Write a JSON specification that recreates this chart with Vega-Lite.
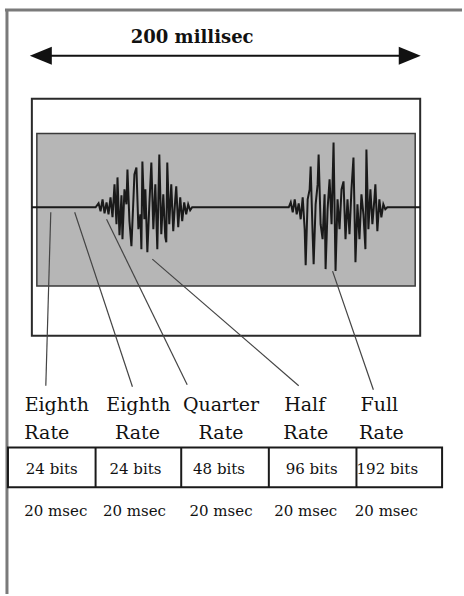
{
  "$schema": "https://vega.github.io/schema/vega-lite/v6.json",
  "width": 464,
  "height": 596,
  "autosize": {"type": "fit", "contains": "padding"},
  "padding": 0,
  "background": "white",
  "config": {"view": {"stroke": null}},
  "datasets": {
    "frame": [
      {"x": 5, "y": 10, "x2": 464, "y2": 10},
      {"x": 7, "y": 10, "x2": 7, "y2": 596}
    ],
    "outerbox": [{"x": 32, "y": 99, "x2": 422, "y2": 337}],
    "graybox": [{"x": 37, "y": 134, "x2": 417, "y2": 287}],
    "table": [{"x": 8, "y": 449, "x2": 444, "y2": 489}],
    "dividers": [
      {"x": 96, "y": 449, "x2": 96, "y2": 489},
      {"x": 182, "y": 449, "x2": 182, "y2": 489},
      {"x": 270, "y": 449, "x2": 270, "y2": 489},
      {"x": 358, "y": 449, "x2": 358, "y2": 489}
    ],
    "pointers": [
      {"x": 51, "y": 213, "x2": 46, "y2": 387},
      {"x": 75, "y": 213, "x2": 133, "y2": 388},
      {"x": 107, "y": 220, "x2": 188, "y2": 386},
      {"x": 153, "y": 260, "x2": 300, "y2": 387},
      {"x": 334, "y": 272, "x2": 375, "y2": 391}
    ],
    "arrow": [{"x": 48, "y": 56, "x2": 404, "y2": 56}],
    "headLeft": [{"x": 41, "y": 56}],
    "headRight": [{"x": 411.5, "y": 56}],
    "wave": [
      {"x": 32, "y": 208}, {"x": 96, "y": 208}, {"x": 99, "y": 204}, {"x": 101, "y": 212},
      {"x": 103, "y": 200}, {"x": 105, "y": 214}, {"x": 107, "y": 203}, {"x": 109, "y": 215},
      {"x": 111, "y": 198}, {"x": 113, "y": 218}, {"x": 115, "y": 185}, {"x": 117, "y": 225},
      {"x": 118, "y": 178}, {"x": 120, "y": 236}, {"x": 122, "y": 196}, {"x": 123, "y": 240},
      {"x": 125, "y": 190}, {"x": 127, "y": 205}, {"x": 128, "y": 170}, {"x": 130, "y": 222},
      {"x": 132, "y": 247}, {"x": 134, "y": 200}, {"x": 135, "y": 175}, {"x": 137, "y": 168},
      {"x": 139, "y": 230}, {"x": 141, "y": 215}, {"x": 142, "y": 250}, {"x": 143, "y": 162},
      {"x": 145, "y": 220}, {"x": 146, "y": 190}, {"x": 148, "y": 253}, {"x": 150, "y": 205},
      {"x": 152, "y": 163}, {"x": 154, "y": 230}, {"x": 156, "y": 185}, {"x": 158, "y": 250},
      {"x": 160, "y": 155}, {"x": 162, "y": 235}, {"x": 164, "y": 195}, {"x": 166, "y": 238},
      {"x": 167, "y": 243}, {"x": 168, "y": 163}, {"x": 170, "y": 225}, {"x": 172, "y": 185},
      {"x": 174, "y": 232}, {"x": 176, "y": 200}, {"x": 177, "y": 187}, {"x": 179, "y": 228},
      {"x": 181, "y": 198}, {"x": 183, "y": 222}, {"x": 185, "y": 203}, {"x": 187, "y": 215},
      {"x": 189, "y": 205}, {"x": 191, "y": 211}, {"x": 193, "y": 208},
      {"x": 290, "y": 208}, {"x": 292, "y": 203}, {"x": 294, "y": 213}, {"x": 296, "y": 200},
      {"x": 298, "y": 215}, {"x": 300, "y": 204}, {"x": 302, "y": 220}, {"x": 304, "y": 198},
      {"x": 306, "y": 230}, {"x": 307, "y": 266}, {"x": 309, "y": 200}, {"x": 311, "y": 190},
      {"x": 312, "y": 167}, {"x": 314, "y": 235}, {"x": 315, "y": 265}, {"x": 317, "y": 205},
      {"x": 319, "y": 185}, {"x": 320, "y": 155}, {"x": 322, "y": 225}, {"x": 324, "y": 240},
      {"x": 326, "y": 195}, {"x": 327, "y": 270}, {"x": 329, "y": 210}, {"x": 331, "y": 180},
      {"x": 333, "y": 225}, {"x": 335, "y": 143}, {"x": 337, "y": 272}, {"x": 339, "y": 200},
      {"x": 341, "y": 230}, {"x": 343, "y": 190}, {"x": 345, "y": 182}, {"x": 347, "y": 240},
      {"x": 349, "y": 200}, {"x": 351, "y": 235}, {"x": 353, "y": 190}, {"x": 355, "y": 158},
      {"x": 357, "y": 263}, {"x": 359, "y": 205}, {"x": 361, "y": 240}, {"x": 363, "y": 195},
      {"x": 365, "y": 215}, {"x": 367, "y": 250}, {"x": 368, "y": 150}, {"x": 370, "y": 230},
      {"x": 372, "y": 190}, {"x": 374, "y": 225}, {"x": 376, "y": 200}, {"x": 377, "y": 185},
      {"x": 379, "y": 232}, {"x": 381, "y": 200}, {"x": 383, "y": 218}, {"x": 385, "y": 205},
      {"x": 387, "y": 210}, {"x": 389, "y": 208}, {"x": 422, "y": 208}
    ],
    "title": [{"x": 193, "y": 43, "label": "200 millisec"}],
    "rates": [
      {"x": 57, "y": 412, "label": "Eighth"}, {"x": 47, "y": 440, "label": "Rate"},
      {"x": 139, "y": 412, "label": "Eighth"}, {"x": 138, "y": 440, "label": "Rate"},
      {"x": 222, "y": 412, "label": "Quarter"}, {"x": 222, "y": 440, "label": "Rate"},
      {"x": 306, "y": 412, "label": "Half"}, {"x": 307, "y": 440, "label": "Rate"},
      {"x": 381, "y": 412, "label": "Full"}, {"x": 383, "y": 440, "label": "Rate"}
    ],
    "bits": [
      {"x": 52, "y": 476, "label": "24 bits"},
      {"x": 136, "y": 476, "label": "24 bits"},
      {"x": 220, "y": 476, "label": "48 bits"},
      {"x": 313, "y": 476, "label": "96 bits"},
      {"x": 389, "y": 476, "label": "192 bits"}
    ],
    "durations": [
      {"x": 56, "y": 518, "label": "20 msec"},
      {"x": 135, "y": 518, "label": "20 msec"},
      {"x": 222, "y": 518, "label": "20 msec"},
      {"x": 307, "y": 518, "label": "20 msec"},
      {"x": 388, "y": 518, "label": "20 msec"}
    ]
  },
  "encoding": {
    "x": {"field": "x", "type": "quantitative", "scale": {"domain": [0, 464], "nice": false, "zero": false}, "axis": null},
    "y": {"field": "y", "type": "quantitative", "scale": {"domain": [0, 596], "nice": false, "zero": false, "reverse": true}, "axis": null}
  },
  "layer": [
    {
      "data": {"name": "frame"},
      "mark": {"type": "rule", "color": "#7a7a7a", "strokeWidth": 3},
      "encoding": {"x2": {"field": "x2"}, "y2": {"field": "y2"}}
    },
    {
      "data": {"name": "outerbox"},
      "mark": {"type": "rect", "fill": "white", "stroke": "#2a2a2a", "strokeWidth": 2},
      "encoding": {"x2": {"field": "x2"}, "y2": {"field": "y2"}}
    },
    {
      "data": {"name": "graybox"},
      "mark": {"type": "rect", "fill": "#b6b6b6", "stroke": "#3a3a3a", "strokeWidth": 1.5},
      "encoding": {"x2": {"field": "x2"}, "y2": {"field": "y2"}}
    },
    {
      "data": {"name": "pointers"},
      "mark": {"type": "rule", "color": "#444444", "strokeWidth": 1.2},
      "encoding": {"x2": {"field": "x2"}, "y2": {"field": "y2"}}
    },
    {
      "data": {"name": "wave"},
      "mark": {"type": "line", "color": "#1a1a1a", "strokeWidth": 2, "interpolate": "linear"},
      "encoding": {}
    },
    {
      "data": {"name": "table"},
      "mark": {"type": "rect", "fill": "white", "fillOpacity": 0, "stroke": "#1a1a1a", "strokeWidth": 2},
      "encoding": {"x2": {"field": "x2"}, "y2": {"field": "y2"}}
    },
    {
      "data": {"name": "dividers"},
      "mark": {"type": "rule", "color": "#1a1a1a", "strokeWidth": 2},
      "encoding": {"x2": {"field": "x2"}, "y2": {"field": "y2"}}
    },
    {
      "data": {"name": "arrow"},
      "mark": {"type": "rule", "color": "#111111", "strokeWidth": 2},
      "encoding": {"x2": {"field": "x2"}, "y2": {"field": "y2"}}
    },
    {
      "data": {"name": "headLeft"},
      "mark": {"type": "point", "filled": true, "opacity": 1, "color": "#111111", "shape": "M-1,0L1,-0.82L1,0.82Z", "size": 484},
      "encoding": {}
    },
    {
      "data": {"name": "headRight"},
      "mark": {"type": "point", "filled": true, "opacity": 1, "color": "#111111", "shape": "M1,0L-1,-0.82L-1,0.82Z", "size": 484},
      "encoding": {}
    },
    {
      "data": {"name": "title"},
      "mark": {"type": "text", "font": "DejaVu Serif", "fontSize": 18, "fontWeight": "bold", "color": "#111111", "align": "center", "baseline": "alphabetic"},
      "encoding": {"text": {"field": "label"}}
    },
    {
      "data": {"name": "rates"},
      "mark": {"type": "text", "font": "DejaVu Serif", "fontSize": 19, "color": "#111111", "align": "center", "baseline": "alphabetic"},
      "encoding": {"text": {"field": "label"}}
    },
    {
      "data": {"name": "bits"},
      "mark": {"type": "text", "font": "DejaVu Serif", "fontSize": 15, "color": "#111111", "align": "center", "baseline": "alphabetic"},
      "encoding": {"text": {"field": "label"}}
    },
    {
      "data": {"name": "durations"},
      "mark": {"type": "text", "font": "DejaVu Serif", "fontSize": 15, "color": "#111111", "align": "center", "baseline": "alphabetic"},
      "encoding": {"text": {"field": "label"}}
    }
  ]
}
